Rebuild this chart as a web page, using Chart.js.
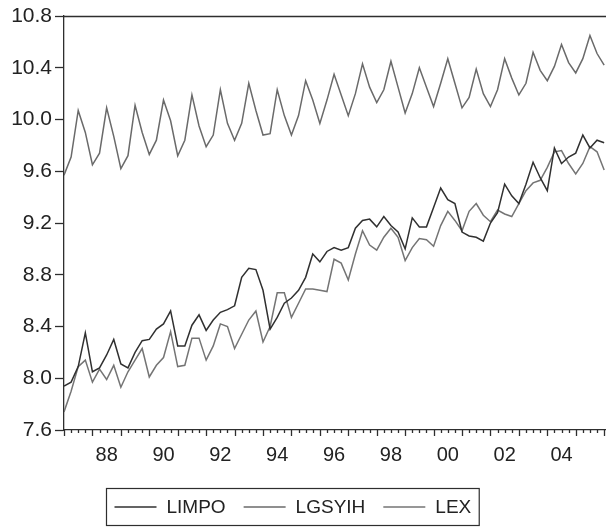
<!DOCTYPE html>
<html>
<head>
<meta charset="utf-8">
<script src="https://cdn.jsdelivr.net/npm/chart.js@4.4.1/dist/chart.umd.min.js"></script>
<style>
  html, body { margin: 0; padding: 0; background: #fff; }
  #chart-box { width: 606px; height: 527px; }
</style>
</head>
<body>
<div id="chart-box"><canvas id="chart"></canvas></div>
<script>
// quarterly data, first observation 1987Q1
const startYear = 1987;
const yearLabels = ["88", "90", "92", "94", "96", "98", "00", "02", "04"];
const yTicks = [7.6, 8.0, 8.4, 8.8, 9.2, 9.6, 10.0, 10.4, 10.8];
const seriesNames = ["LIMPO", "LGSYIH", "LEX"];

const limpo = [
  7.94, 7.97, 8.09, 8.35, 8.05, 8.08, 8.18, 8.30, 8.11, 8.08,
  8.20, 8.29, 8.30, 8.38, 8.42, 8.52, 8.25, 8.25, 8.41, 8.49,
  8.37, 8.45, 8.51, 8.53, 8.56, 8.78, 8.85, 8.84, 8.68, 8.38,
  8.47, 8.58, 8.62, 8.68, 8.78, 8.96, 8.90, 8.98, 9.01, 8.99,
  9.01, 9.16, 9.22, 9.23, 9.17, 9.25, 9.18, 9.13, 9.00, 9.24,
  9.17, 9.17, 9.32, 9.47, 9.38, 9.35, 9.13, 9.10, 9.09, 9.06,
  9.20, 9.28, 9.50, 9.41, 9.35, 9.50, 9.67, 9.55, 9.45, 9.78,
  9.66, 9.71, 9.74, 9.88, 9.78, 9.84, 9.82
];
const lgsyih = [
  9.57, 9.71, 10.07, 9.90, 9.65, 9.74, 10.09, 9.87, 9.62, 9.72,
  10.11, 9.90, 9.73, 9.84, 10.15, 9.99, 9.72, 9.84, 10.19, 9.95,
  9.79, 9.88, 10.23, 9.97, 9.84, 9.97, 10.28, 10.07, 9.88, 9.89,
  10.23, 10.03, 9.88, 10.03, 10.30, 10.15, 9.97, 10.15, 10.35, 10.19,
  10.03, 10.20, 10.43, 10.25, 10.13, 10.23, 10.45, 10.25, 10.05, 10.20,
  10.40, 10.25, 10.10, 10.28, 10.47, 10.28, 10.09, 10.17, 10.39, 10.20,
  10.10, 10.23, 10.47, 10.32, 10.19, 10.28, 10.52, 10.38, 10.30, 10.41,
  10.58, 10.44, 10.36, 10.47, 10.65, 10.51, 10.42
];
const lex = [
  7.74, 7.90, 8.09, 8.14, 7.97, 8.07, 7.99, 8.10, 7.93, 8.05,
  8.14, 8.23, 8.01, 8.10, 8.16, 8.36, 8.09, 8.10, 8.31, 8.31,
  8.14, 8.25, 8.42, 8.40, 8.23, 8.34, 8.45, 8.52, 8.28, 8.40,
  8.66, 8.66, 8.47, 8.58, 8.69, 8.69, 8.68, 8.67, 8.92, 8.89,
  8.76, 8.96, 9.14, 9.03, 8.99, 9.09, 9.16, 9.09, 8.91, 9.01,
  9.08, 9.07, 9.02, 9.18, 9.29, 9.22, 9.14, 9.29, 9.35, 9.26,
  9.21, 9.30, 9.27, 9.25, 9.35, 9.45, 9.51, 9.53, 9.63, 9.75,
  9.76, 9.66, 9.58, 9.66, 9.79, 9.75, 9.61
];

(() => {
  const axisColor = "#2e2e2e";
  const fontFamily = "'Liberation Sans', Arial, sans-serif";
  const lineColors = ["#303030", "#6a6a6a", "#747474"];

  // label of a year sits in the middle of that year's four quarters
  function yearToQuarterIndex(label) {
    let yy = parseInt(label, 10);
    let year = yy < 50 ? 2000 + yy : 1900 + yy;
    return (year - startYear) * 4 + 2;
  }

  function toPoints(values) {
    return values.map((v, i) => ({ x: i, y: v }));
  }

  const tickAndLegendPlugin = {
    id: "tickAndLegend",
    afterDraw(chart) {
      const { ctx, chartArea, scales } = chart;
      const xScale = scales.x;
      ctx.save();
      ctx.strokeStyle = axisColor;
      ctx.lineWidth = 1.3;
      ctx.beginPath();
      ctx.moveTo(chartArea.left, chartArea.top + 0.5);
      ctx.lineTo(chartArea.right, chartArea.top + 0.5);
      for (let q = 0; q <= Math.floor(xScale.max); q++) {
        let px = Math.round(xScale.getPixelForValue(q)) + 0.5;
        let len = q % 4 === 0 ? 6 : 3;
        ctx.moveTo(px, chartArea.bottom);
        ctx.lineTo(px, chartArea.bottom + len);
      }
      ctx.stroke();

      // boxed legend under the axis
      ctx.font = "19px " + fontFamily;
      ctx.textBaseline = "middle";
      ctx.fillStyle = "#222";
      const boxLeft = 106.5, boxTop = 488.5, boxHeight = 37;
      const lineLen = 42, lineGap = 10, itemGap = 18, pad = 8;
      let x = boxLeft + pad;
      let cy = boxTop + boxHeight / 2;
      chart.data.datasets.forEach((ds, i) => {
        ctx.strokeStyle = ds.borderColor;
        ctx.lineWidth = 1.4;
        ctx.beginPath();
        ctx.moveTo(x, cy);
        ctx.lineTo(x + lineLen, cy);
        ctx.stroke();
        x += lineLen + lineGap;
        ctx.fillText(ds.label, x, cy + 1);
        x += ctx.measureText(ds.label).width;
        if (i < chart.data.datasets.length - 1) x += itemGap;
      });
      ctx.strokeStyle = axisColor;
      ctx.lineWidth = 1.2;
      ctx.strokeRect(boxLeft, boxTop, x + pad - boxLeft, boxHeight);
      ctx.restore();
    }
  };

  function makeChart() {
    let ctx = document.getElementById("chart").getContext("2d");
    let allSeries = [limpo, lgsyih, lex];
    new Chart(ctx, {
      type: "line",
      data: {
        datasets: allSeries.map((values, i) => ({
          label: seriesNames[i],
          data: toPoints(values),
          borderColor: lineColors[i],
          borderWidth: 1.5,
          pointRadius: 0,
          tension: 0,
          fill: false
        }))
      },
      options: {
        responsive: true,
        maintainAspectRatio: false,
        animation: false,
        layout: { padding: { top: 16, left: 0, right: 0, bottom: 0 } },
        plugins: {
          legend: { display: false },
          tooltip: { enabled: false }
        },
        scales: {
          x: {
            type: "linear",
            min: 0,
            max: 76.26,
            grid: { display: false, drawTicks: false },
            border: { display: true, color: axisColor, width: 1.3 },
            afterBuildTicks: (scale) => {
              scale.ticks = yearLabels.map((l) => ({ value: yearToQuarterIndex(l), label: l }));
            },
            afterFit: (scale) => { scale.height = 97; },
            ticks: {
              autoSkip: false,
              maxRotation: 0,
              padding: 13,
              color: "#222",
              font: { family: fontFamily, size: 20 },
              callback: function (value) {
                let hit = yearLabels.find((l) => yearToQuarterIndex(l) === value);
                return hit || "";
              }
            }
          },
          y: {
            min: 7.6,
            max: 10.8,
            grid: { drawOnChartArea: false, drawTicks: true, tickLength: 9, tickColor: axisColor, tickWidth: 1.3 },
            border: { display: true, color: axisColor, width: 1.3 },
            afterBuildTicks: (scale) => {
              scale.ticks = yTicks.map((v) => ({ value: v }));
            },
            afterFit: (scale) => { scale.width = 64; },
            ticks: {
              padding: 3,
              color: "#222",
              font: { family: fontFamily, size: 21 },
              callback: (value) => Number(value).toFixed(1)
            }
          }
        }
      },
      plugins: [tickAndLegendPlugin]
    });
  }

  makeChart();
})();
</script>
</body>
</html>
